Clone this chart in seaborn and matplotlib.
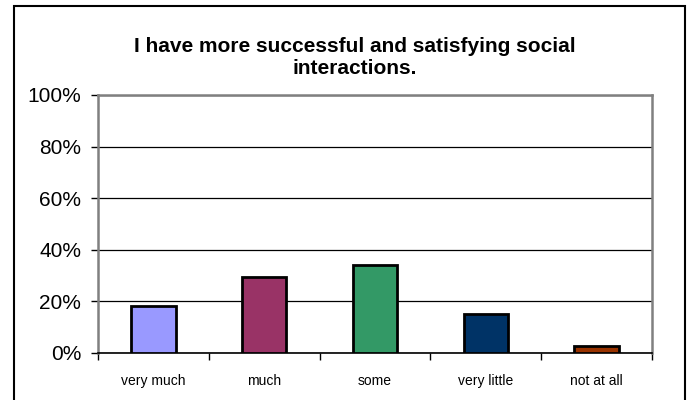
import numpy as np
import pandas as pd
import matplotlib
matplotlib.use('Agg')
import matplotlib.pyplot as plt
from matplotlib.patches import Rectangle
from matplotlib.ticker import FixedLocator, PercentFormatter
import seaborn as sns

# data
categories = ['very much', 'much', 'some', 'very little', 'not at all']
shares = [18.1, 29.6, 34.2, 15.2, 2.8]
colors = ['#9999FF', '#993366', '#339966', '#003366', '#993300']
title = 'I have more successful and satisfying social\ninteractions.'

sns.set_theme(style='white')
plt.rcParams['font.family'] = ['Liberation Sans', 'DejaVu Sans']

df = pd.DataFrame({'answer': categories, 'share': shares})

fig = plt.figure(figsize=(6.88, 4.0), dpi=100)
ax = fig.add_axes([98 / 688, 1 - 353 / 400, (652 - 98) / 688, (353 - 95) / 400])

sns.barplot(data=df, x='answer', y='share', hue='answer', palette=colors,
            order=categories, hue_order=categories, legend=False, saturation=1,
            width=0.4, edgecolor='black', linewidth=2, ax=ax, zorder=3)

ax.set_ylim(0, 100)
ax.set_xlim(-0.5, len(categories) - 0.5)
ax.set_yticks(np.arange(0, 101, 20))
ax.yaxis.set_major_formatter(PercentFormatter(decimals=0))
ax.yaxis.grid(True, color='black', linewidth=0.9)
ax.set_axisbelow(True)

# category boundary ticks like Excel
ax.xaxis.set_minor_locator(FixedLocator(np.arange(-0.5, len(categories), 1.0)))
ax.tick_params(axis='x', which='major', length=0, labelsize=10, pad=15, labelcolor='black')
ax.tick_params(axis='x', which='minor', length=5, width=1, color='black', direction='out', bottom=True)
ax.tick_params(axis='y', which='major', length=5, width=1, color='black', direction='out',
               left=True, labelsize=15, pad=7, labelcolor='black')

for side in ['top', 'right', 'left']:
    ax.spines[side].set_color('#808080')
    ax.spines[side].set_linewidth(1.8)
ax.spines['bottom'].set_color('black')
ax.spines['bottom'].set_linewidth(1.2)
ax.set_xlabel('')
ax.set_ylabel('')

fig.text(355 / 688, 1 - 57 / 400, title, ha='center', va='center',
         fontsize=15, fontweight='bold', linespacing=1.2, color='black')

# outer chart frame (no bottom edge visible)
fig.patches.append(Rectangle((14 / 688, -0.05), (685 - 14) / 688, 1.05 - 6 / 400,
                             transform=fig.transFigure, fill=False,
                             edgecolor='black', linewidth=1.5))

fig.savefig('out.png', dpi=100)
